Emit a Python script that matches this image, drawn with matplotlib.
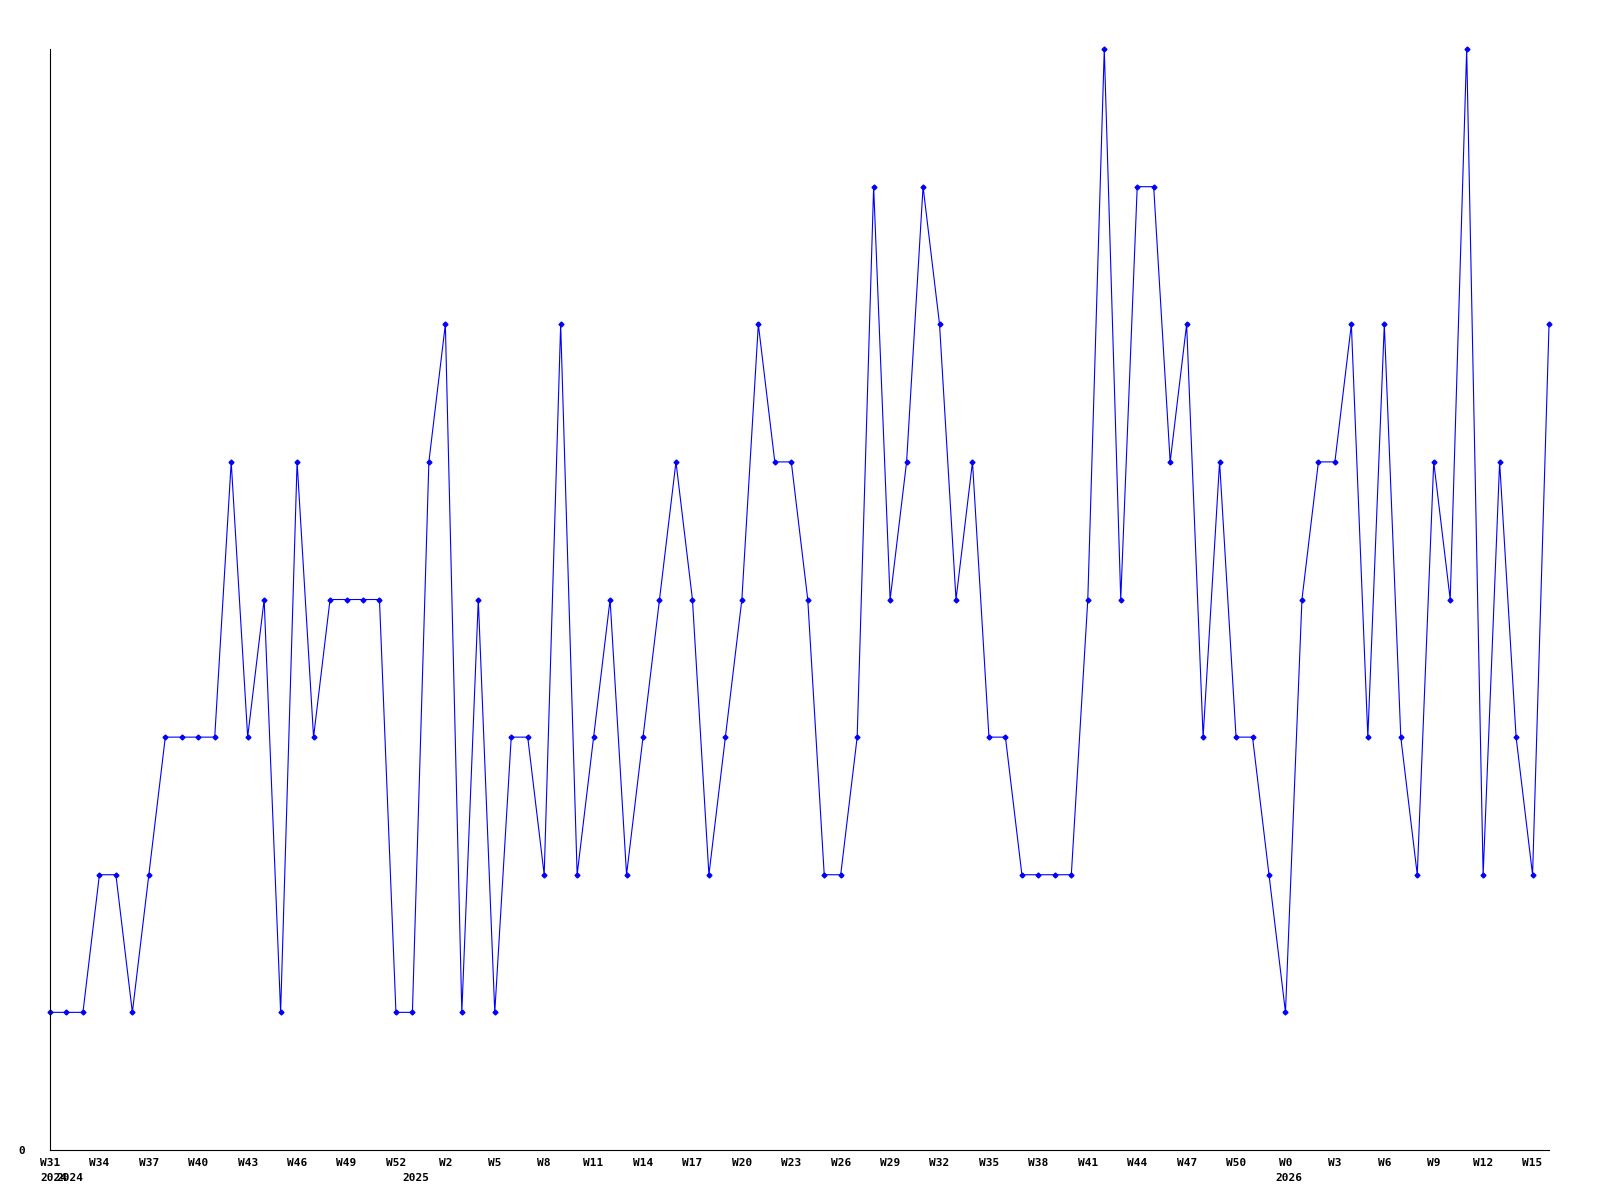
import matplotlib
matplotlib.use('Agg')
import matplotlib.pyplot as plt

# Weekly counts (W31 2024 .. W16 2026)
values = [1, 1, 1, 2, 2, 1, 2, 3, 3, 3,
          3, 5, 3, 4, 1, 5, 3, 4, 4, 4,
          4, 1, 1, 5, 6, 1, 4, 1, 3, 3,
          2, 6, 2, 3, 4, 2, 3, 4, 5, 4,
          2, 3, 4, 6, 5, 5, 4, 2, 2, 3,
          7, 4, 5, 7, 6, 4, 5, 3, 3, 2,
          2, 2, 2, 4, 8, 4, 7, 7, 5, 6,
          3, 5, 3, 3, 2, 1, 4, 5, 5, 6,
          3, 6, 3, 2, 5, 4, 8, 2, 5, 3,
          2, 6]

week_labels = ['W31', 'W34', 'W37', 'W40', 'W43', 'W46', 'W49', 'W52',
               'W2', 'W5', 'W8', 'W11', 'W14', 'W17', 'W20', 'W23', 'W26',
               'W29', 'W32', 'W35', 'W38', 'W41', 'W44', 'W47', 'W50',
               'W0', 'W3', 'W6', 'W9', 'W12', 'W15']
year_labels = ['2024', '2024', '2025', '2026']
year_positions = [0, 1, 22, 75]

x = list(range(len(values)))
tick_pos = list(range(0, len(values), 3))

font = {'family': 'DejaVu Sans Mono', 'weight': 'bold', 'size': 8}

fig = plt.figure(figsize=(16, 12), dpi=100)
ax = fig.add_axes([0.03125, 0.0417, 0.9369, 0.9174])

ax.plot(x, values, color='#0000ff', linewidth=0.8, marker='D',
        markersize=2.5, clip_on=False)

ax.set_xlim(0, len(values) - 1)
ax.set_ylim(0, 8)

ax.spines['top'].set_visible(False)
ax.spines['right'].set_visible(False)
ax.spines['left'].set_linewidth(0.8)
ax.spines['bottom'].set_linewidth(0.8)

ax.set_xticks(tick_pos)
ax.set_xticklabels(week_labels, fontdict=font)
ax.set_yticks([0])
ax.set_yticklabels(['0'], fontdict=font)
ax.tick_params(axis='x', length=0, pad=5.5)
ax.tick_params(axis='y', length=0, pad=18)

for lbl, pos in zip(year_labels, year_positions):
    ax.annotate(lbl, xy=(pos, 0), xycoords=('data', 'axes fraction'),
                xytext=(2.5, -16.5), textcoords='offset points',
                ha='center', va='top', **font)

fig.savefig('out.png', dpi=100)
